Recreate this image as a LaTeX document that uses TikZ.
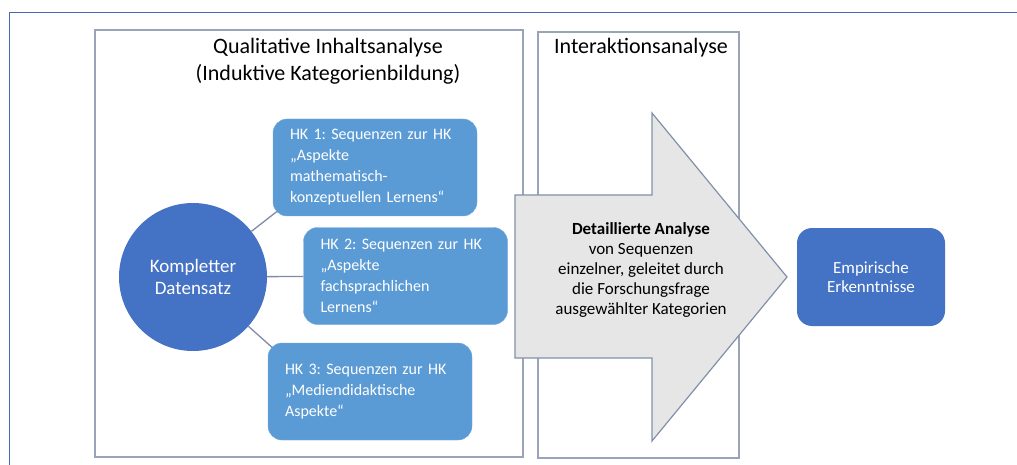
\documentclass[tikz,border=0pt]{standalone}
\usepackage{fontspec}
\setmainfont{Carlito}
\usetikzlibrary{backgrounds}

\definecolor{rahmenblau}{HTML}{4A67B5}
\definecolor{kastengrau}{HTML}{9AA4B8}
\definecolor{pfeilgrau}{HTML}{E7E6E6}
\definecolor{pfeilrand}{HTML}{8090AA}
\definecolor{dunkelblau}{HTML}{4472C4}
\definecolor{hellblau}{HTML}{5B9BD5}
\definecolor{liniengrau}{HTML}{7E8AA6}

\tikzset{
	hk/.style={rectangle, rounded corners=14pt, fill=hellblau, draw=hellblau!85!white, text=white,
		align=left, inner xsep=17pt, text width=170pt, minimum height=97pt,
		font=\fontsize{16}{21}\selectfont},
	kasten/.style={draw=kastengrau, line width=1.6pt},
	verbinder/.style={draw=liniengrau, line width=1.3pt},
	titel/.style={align=center, font=\fontsize{22}{27}\selectfont}
}

\begin{document}
\frenchspacing
\begin{tikzpicture}[x=1pt, y=-1pt]
	\useasboundingbox (0,0) rectangle (1017,465);
	
	% Rahmen aussen
	\draw[rahmenblau, line width=1.6pt] (9.5,465) -- (9.5,12.5) -- (1017,12.5);
	
	% Phasen
	\draw[kasten] (95,30) rectangle (523,457);
	\draw[kasten] (538,32) rectangle (739,458);
	\draw (328,61) node[titel] (QIA) {Qualitative Inhaltsanalyse\\(Induktive Kategorienbildung)};
	\draw (641,48) node[titel] (IA) {Interaktionsanalyse};
	
	% Datensatz und Hauptkategorien
	\draw (193,277) node[circle, fill=dunkelblau, minimum size=148pt, inner sep=0pt, text=white,
		align=center, font=\fontsize{19}{22}\selectfont] (Daten) {Kompletter\\Datensatz};
	\draw (375,167.5) node[hk] (HKeins) {HK 1: Sequenzen zur HK\\„Aspekte\\mathematisch-\\konzeptuellen Lernens“};
	\draw (405.5,276) node[hk] (HKzwei) {HK 2: Sequenzen zur HK\\„Aspekte\\fachsprachlichen\\Lernens“};
	\draw (370,391.5) node[hk] (HKdrei) {HK 3: Sequenzen zur HK\\„Mediendidaktische\\Aspekte“};
	
	\begin{pgfonlayer}{background}
		\draw[verbinder] (Daten) -- ([shift={(7,-7)}]HKeins.south west);
		\draw[verbinder] (Daten) -- (HKzwei);
		\draw[verbinder] (Daten) -- ([shift={(7,7)}]HKdrei.north west);
	\end{pgfonlayer}
	
	% Pfeil Interaktionsanalyse
	\draw[fill=pfeilgrau, draw=pfeilrand, line width=1.2pt, line join=miter]
		(515,195) -- (652,195) -- (652,113) -- (787,277) -- (652,441) -- (652,358) -- (515,358) -- cycle;
	\draw (641,270) node[align=center, font=\fontsize{17}{20}\selectfont] (Analyse)
		{\textbf{Detaillierte Analyse}\\von Sequenzen\\einzelner, geleitet durch\\die Forschungsfrage\\ausgewählter Kategorien};
	
	% Ergebnis
	\draw (871,277) node[rectangle, rounded corners=15pt, fill=dunkelblau, minimum width=148pt,
		minimum height=98pt, text=white, align=center, font=\fontsize{17}{19}\selectfont] (Ergebnis)
		{Empirische\\Erkenntnisse};
\end{tikzpicture}
\end{document}
